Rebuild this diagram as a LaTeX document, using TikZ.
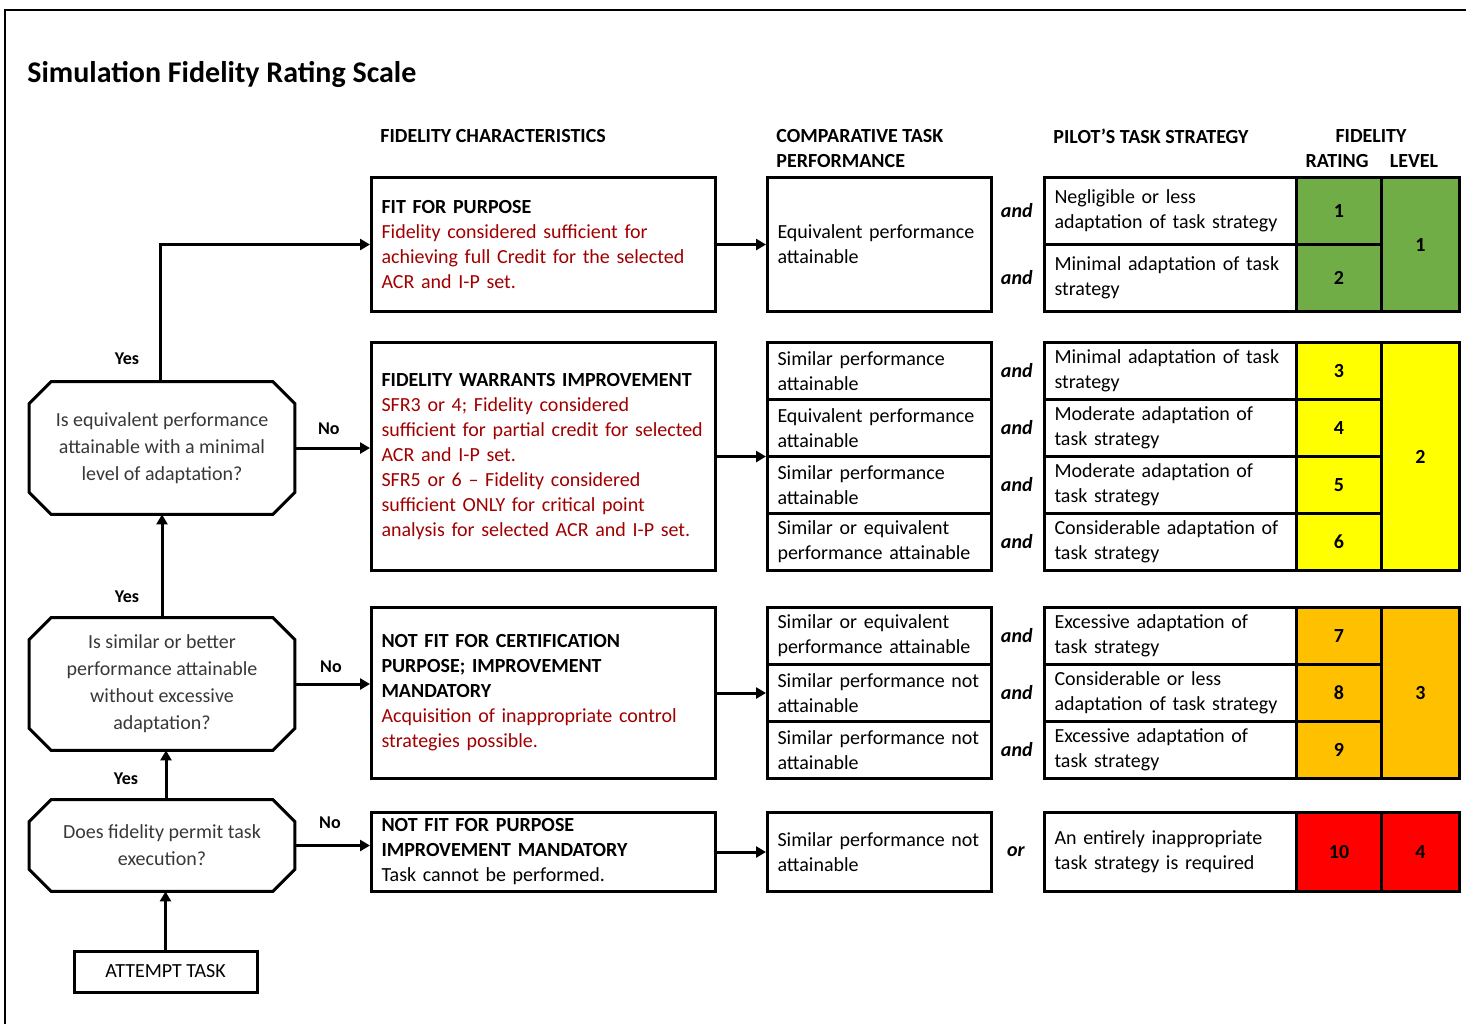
\documentclass[tikz,border=0pt]{standalone}
\usepackage{fontspec}
\setmainfont{Carlito}
\usepackage{tikz}
\usetikzlibrary{arrows.meta}
\usetikzlibrary{positioning}
\definecolor{fidgreen}{RGB}{112,173,71}
\definecolor{fidyellow}{RGB}{255,255,0}
\definecolor{fidorange}{RGB}{255,192,0}
\definecolor{fidred}{RGB}{255,0,0}
\definecolor{fidtext}{RGB}{160,0,0}
\tikzset{
	frame/.style={line width=1pt},
	box/.style={draw=black, line width=1.5pt, rectangle, inner sep=0pt},
	charbox/.style={box, anchor=north west, minimum width=172pt, text width=162pt, align=left},
	perfbox/.style={box, anchor=north west, minimum width=112pt, text width=102pt, align=left},
	stratbox/.style={box, anchor=north west, minimum width=126pt, text width=116pt, align=left},
	ratebox/.style={box, anchor=north west, minimum width=42.5pt, font=\bfseries},
	levelbox/.style={box, anchor=north west, minimum width=39pt, font=\bfseries},
	question/.style={rectangle, inner sep=0pt, minimum width=132.5pt, align=center,
		text=black!78, font=\fontsize{10}{13.5}\selectfont},
	octline/.style={draw=black, line width=1.5pt, line join=miter},
	startbox/.style={box, minimum width=91.5pt, minimum height=20.5pt},
	flow/.style={line width=1.5pt, -{Triangle[length=5pt,width=5.5pt]}},
	answer/.style={font=\fontsize{9}{11}\selectfont\bfseries},
	joinword/.style={font=\bfseries\itshape, inner sep=0pt},
	header/.style={font=\bfseries, anchor=west, align=left, inner sep=0pt},
	title/.style={font=\fontsize{15}{17}\selectfont\bfseries, anchor=west, inner sep=0pt},
}
% octagon outline around a question node
\newcommand\octagon[1]{%
	\draw[octline] ([xshift=11pt]#1.north west) -- ([xshift=-11pt]#1.north east)
		-- ([yshift=-11pt]#1.north east) -- ([yshift=11pt]#1.south east)
		-- ([xshift=-11pt]#1.south east) -- ([xshift=11pt]#1.south west)
		-- ([yshift=11pt]#1.south west) -- ([yshift=-11pt]#1.north west) -- cycle;}

\begin{document}
\fontsize{10}{12.5}\selectfont
\begin{tikzpicture}[x=0.5pt, y=-0.5pt]
	\useasboundingbox (0,0) rectangle (1466,1024);
	\draw[frame] (5,1024) -- (5,10) -- (1466,10);
	\node[title] (title) at (27,74) {Simulation Fidelity Rating Scale};

	% column headers
	\node[header] (hchar) at (380,136) {FIDELITY CHARACTERISTICS};
	\node[header] (hperf) at (776,148.5) {COMPARATIVE TASK\\PERFORMANCE};
	\node[header] (hstrat) at (1053,136) {PILOT’S TASK STRATEGY};
	\node[header, anchor=center] (hfid) at (1371,136) {FIDELITY};
	\node[header, anchor=center] (hrate) at (1337,161) {RATING};
	\node[header, anchor=center] (hlevel) at (1414,161) {LEVEL};

	% fidelity characteristics
	\node[charbox, minimum height=67pt] (fitpurpose) at (370,176) {\textbf{FIT FOR PURPOSE}\\\color{fidtext}Fidelity considered sufficient for\\achieving full Credit for the selected\\ACR and I-P set.};
	\node[charbox, minimum height=114pt] (warrants) at (370,341) {\textbf{FIDELITY WARRANTS IMPROVEMENT}\\\color{fidtext}SFR3 or 4; Fidelity considered\\sufficient for partial credit for selected\\ACR and I-P set.\\SFR5 or 6 – Fidelity considered\\sufficient ONLY for critical point\\analysis for selected ACR and I-P set.};
	\node[charbox, minimum height=85.5pt] (notcert) at (370,606) {\textbf{NOT FIT FOR CERTIFICATION}\\\textbf{PURPOSE; IMPROVEMENT}\\\textbf{MANDATORY}\\\color{fidtext}Acquisition of inappropriate control\\strategies possible.};
	\node[charbox, minimum height=39.5pt] (notfit) at (370,811) {\textbf{NOT FIT FOR PURPOSE}\\\textbf{IMPROVEMENT MANDATORY}\\Task cannot be performed.};

	% comparative task performance
	\node[perfbox, minimum height=67pt] (p1) at (766,176) {Equivalent performance\\attainable};
	\node[perfbox, minimum height=28.5pt] (p3) at (766,341) {Similar performance\\attainable};
	\node[perfbox, minimum height=28.5pt] (p4) at (766,398) {Equivalent performance\\attainable};
	\node[perfbox, minimum height=28.5pt] (p5) at (766,455) {Similar performance\\attainable};
	\node[perfbox, minimum height=28.5pt] (p6) at (766,512) {Similar or equivalent\\performance attainable};
	\node[perfbox, minimum height=28.5pt] (p7) at (766,606) {Similar or equivalent\\performance attainable};
	\node[perfbox, minimum height=28.5pt] (p8) at (766,663) {Similar performance not\\attainable};
	\node[perfbox, minimum height=28.5pt] (p9) at (766,720) {Similar performance not\\attainable};
	\node[perfbox, minimum height=39.5pt] (p10) at (766,811) {Similar performance not\\attainable};

	% pilot's task strategy
	\node[stratbox, minimum height=33.5pt] (s1) at (1043,176) {Negligible or less\\adaptation of task strategy};
	\node[stratbox, minimum height=33.5pt] (s2) at (1043,243) {Minimal adaptation of task\\strategy};
	\node[stratbox, minimum height=28.5pt] (s3) at (1043,341) {Minimal adaptation of task\\strategy};
	\node[stratbox, minimum height=28.5pt] (s4) at (1043,398) {Moderate adaptation of\\task strategy};
	\node[stratbox, minimum height=28.5pt] (s5) at (1043,455) {Moderate adaptation of\\task strategy};
	\node[stratbox, minimum height=28.5pt] (s6) at (1043,512) {Considerable adaptation of\\task strategy};
	\node[stratbox, minimum height=28.5pt] (s7) at (1043,606) {Excessive adaptation of\\task strategy};
	\node[stratbox, minimum height=28.5pt] (s8) at (1043,663) {Considerable or less\\adaptation of task strategy};
	\node[stratbox, minimum height=28.5pt] (s9) at (1043,720) {Excessive adaptation of\\task strategy};
	\node[stratbox, minimum height=39.5pt] (s10) at (1043,811) {An entirely inappropriate\\task strategy is required};

	% and / or
	\foreach \s in {s1,s2,s3,s4,s5,s6,s7,s8,s9}
		\node[joinword, left=5pt of \s] {and};
	\node[joinword, left=9pt of s10] {or};

	% rating
	\node[ratebox, fill=fidgreen, minimum height=33.5pt] (r1) at (1295,176) {1};
	\node[ratebox, fill=fidgreen, minimum height=33.5pt] (r2) at (1295,243) {2};
	\node[ratebox, fill=fidyellow, minimum height=28.5pt] (r3) at (1295,341) {3};
	\node[ratebox, fill=fidyellow, minimum height=28.5pt] (r4) at (1295,398) {4};
	\node[ratebox, fill=fidyellow, minimum height=28.5pt] (r5) at (1295,455) {5};
	\node[ratebox, fill=fidyellow, minimum height=28.5pt] (r6) at (1295,512) {6};
	\node[ratebox, fill=fidorange, minimum height=28.5pt] (r7) at (1295,606) {7};
	\node[ratebox, fill=fidorange, minimum height=28.5pt] (r8) at (1295,663) {8};
	\node[ratebox, fill=fidorange, minimum height=28.5pt] (r9) at (1295,720) {9};
	\node[ratebox, fill=fidred, minimum height=39.5pt] (r10) at (1295,811) {10};

	% level
	\node[levelbox, fill=fidgreen, minimum height=67pt] (level1) at (1380,176) {1};
	\node[levelbox, fill=fidyellow, minimum height=114pt] (level2) at (1380,341) {2};
	\node[levelbox, fill=fidorange, minimum height=85.5pt] (level3) at (1380,606) {3};
	\node[levelbox, fill=fidred, minimum height=39.5pt] (level4) at (1380,811) {4};

	% decision steps
	\node[question, minimum height=66pt] (q1) at (162,448) {Is equivalent performance\\attainable with a minimal\\level of adaptation?};
	\node[question, minimum height=66pt] (q2) at (162,684) {Is similar or better\\performance attainable\\without excessive\\adaptation?};
	\node[question, minimum height=45.5pt] (q3) at (162,845.5) {Does fidelity permit task\\execution?};
	\octagon{q1}
	\octagon{q2}
	\octagon{q3}
	\node[startbox] (attempt) at (165.5,971.5) {ATTEMPT TASK};

	\draw[flow] (attempt.north) -- (attempt.north |- q3.south);
	\draw[flow] ([xshift=2pt]q3.north) -- ([xshift=2pt]q3.north |- q2.south);
	\draw[flow] (q2.north) -- (q2.north |- q1.south);
	\draw[flow] ([xshift=-1pt]q1.north) |- (fitpurpose.west);
	\draw[flow] (q1.east) -- (q1.east -| warrants.west);
	\draw[flow] (q2.east) -- (q2.east -| notcert.west);
	\draw[flow] (q3.east) -- (q3.east -| notfit.west);
	\node[answer] at ([shift={(-35,-23)}]q1.north) {Yes};
	\node[answer] at ([shift={(-35,-21)}]q2.north) {Yes};
	\node[answer] at ([shift={(-36,-21)}]q3.north) {Yes};
	\node[answer] at ([shift={(34,-19)}]q1.east) {No};
	\node[answer] at ([shift={(36,-17)}]q2.east) {No};
	\node[answer] at ([shift={(35,-23)}]q3.east) {No};

	\draw[flow] (fitpurpose) -- (p1);
	\draw[flow] (warrants.east) -- (warrants.east -| p5.west);
	\draw[flow] (notcert.east) -- (notcert.east -| p8.west);
	\draw[flow] (notfit) -- (p10);
\end{tikzpicture}
\end{document}
